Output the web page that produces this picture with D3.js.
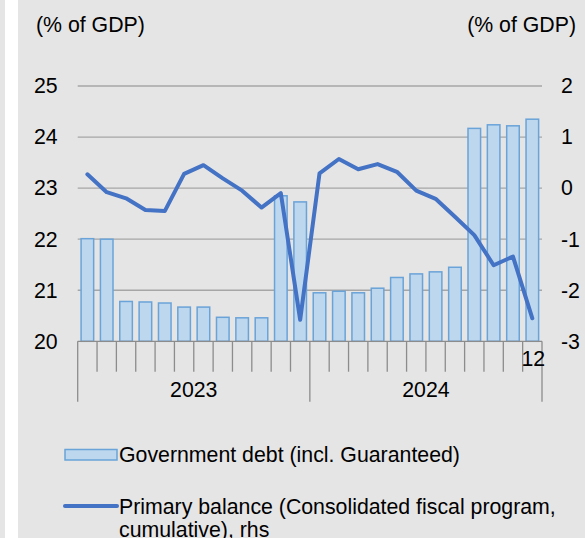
<!DOCTYPE html>
<html>
<head>
<meta charset="utf-8">
<script src="https://cdn.jsdelivr.net/npm/d3@7"></script>
<style>
  html, body { margin: 0; padding: 0; background: #e5e5e5; }
  svg { display: block; }
  text { font-family: "Liberation Sans", Arial, sans-serif; fill: #000; }
</style>
</head>
<body>
<svg id="chart" width="585" height="538"></svg>
<script>
// Monthly data, Jan 2023 – Dec 2024
const months = ["", "", "", "", "", "", "", "", "", "", "", "",
                "", "", "", "", "", "", "", "", "", "", "", "12"];
const years = ["2023", "2024"];
// Government debt (incl. guaranteed), % of GDP — left axis
const govDebt = [22.01, 22.00, 20.78, 20.77, 20.75, 20.67, 20.67, 20.47, 20.46, 20.46, 22.85, 22.73,
                 20.95, 20.98, 20.95, 21.04, 21.25, 21.32, 21.36, 21.45, 24.17, 24.24, 24.22, 24.35];
// Primary balance, consolidated fiscal program, cumulative, % of GDP — right axis
const primaryBalance = [0.27, -0.08, -0.20, -0.43, -0.45, 0.28, 0.45, 0.19, -0.05, -0.38, -0.10, -2.58,
                        0.29, 0.57, 0.37, 0.47, 0.32, -0.05, -0.21, -0.56, -0.92, -1.51, -1.34, -2.55];
const leftTicks = [20, 21, 22, 23, 24, 25];
const rightTicks = [-3, -2, -1, 0, 1, 2];
const legendLabels = ["Government debt (incl. Guaranteed)",
                      ["Primary balance (Consolidated fiscal program,", "cumulative), rhs"]];

const svg = d3.select("#chart");
const FONT = 21.3;
const fmt = d => String(d);

// Narrow white strip along the left edge
svg.append("rect").attr("x", 5).attr("y", 0).attr("width", 13).attr("height", 538).attr("fill", "#ffffff");

const plotLeft = 77.7, plotRight = 542, plotTop = 86, plotBottom = 341.3;

const x = d3.scaleBand()
  .domain(d3.range(govDebt.length))
  .range([plotLeft, plotRight])
  .paddingInner(0.35)
  .paddingOuter(0.175);
const edge = d3.scaleLinear().domain([0, govDebt.length]).range([plotLeft, plotRight]);
const yL = d3.scaleLinear().domain([20, 25]).range([plotBottom, plotTop]);
const yR = d3.scaleLinear().domain([-3, 2]).range([plotBottom, plotTop]);

// Unit labels
svg.append("text").attr("x", 36).attr("y", 31.5).attr("font-size", FONT).text("(% of GDP)");
svg.append("text").attr("x", 576).attr("y", 31.5).attr("font-size", FONT)
  .attr("text-anchor", "end").text("(% of GDP)");

// Gridlines
svg.append("g").selectAll("line").data(leftTicks.filter(d => d !== 20)).join("line")
  .attr("x1", plotLeft).attr("x2", plotRight)
  .attr("y1", d => yL(d)).attr("y2", d => yL(d))
  .attr("stroke", "#a6a6a6").attr("stroke-width", 1.3);

// Left axis
const axL = svg.append("g").attr("transform", `translate(${plotLeft},0)`)
  .call(d3.axisLeft(yL).tickValues(leftTicks).tickFormat(fmt).tickSize(0).tickPadding(20));
axL.select(".domain").remove();
axL.selectAll("text").attr("font-size", FONT).attr("font-family", "Liberation Sans, Arial, sans-serif").attr("fill", "#000");

// Right axis
const axR = svg.append("g").attr("transform", `translate(${plotRight},0)`)
  .call(d3.axisRight(yR).tickValues(rightTicks).tickFormat(fmt).tickSize(0).tickPadding(19));
axR.select(".domain").remove();
axR.selectAll("text").attr("font-size", FONT).attr("font-family", "Liberation Sans, Arial, sans-serif").attr("fill", "#000");

// Bars
svg.append("g").selectAll("rect").data(govDebt).join("rect")
  .attr("x", (d, i) => x(i))
  .attr("width", x.bandwidth())
  .attr("y", d => yL(d))
  .attr("height", d => yL(20) - yL(d))
  .attr("fill", "#bdd7ee")
  .attr("stroke", "#6aa3d8")
  .attr("stroke-width", 1.5);

// Category axis line and ticks
const axB = svg.append("g");
axB.append("line").attr("x1", plotLeft).attr("x2", plotRight)
  .attr("y1", plotBottom).attr("y2", plotBottom)
  .attr("stroke", "#8c8c8c").attr("stroke-width", 1.3);
axB.selectAll("line.tick").data(d3.range(govDebt.length + 1)).join("line")
  .attr("class", "tick")
  .attr("x1", i => edge(i)).attr("x2", i => edge(i))
  .attr("y1", plotBottom)
  .attr("y2", i => (i % 12 === 0) ? 401.7 : 371.7)
  .attr("stroke", "#8c8c8c").attr("stroke-width", 1.3);
axB.selectAll("text.month").data(months).join("text")
  .attr("class", "month")
  .attr("x", (d, i) => x(i) + x.bandwidth() / 2 + 1)
  .attr("y", 366)
  .attr("text-anchor", "middle")
  .attr("font-size", FONT)
  .text(d => d);
axB.selectAll("text.year").data(years).join("text")
  .attr("class", "year")
  .attr("x", (d, i) => (edge(i * 12) + edge(i * 12 + 12)) / 2)
  .attr("y", 397)
  .attr("text-anchor", "middle")
  .attr("font-size", FONT)
  .text(d => d);

// Primary balance line
const line = d3.line()
  .x((d, i) => x(i) + x.bandwidth() / 2)
  .y(d => yR(d));
svg.append("path").datum(primaryBalance)
  .attr("d", line)
  .attr("fill", "none")
  .attr("stroke", "#4472c4")
  .attr("stroke-width", 4)
  .attr("stroke-linejoin", "round")
  .attr("stroke-linecap", "round");

// Legend
const lg = svg.append("g");
lg.append("rect").attr("x", 65).attr("y", 449.5).attr("width", 52).attr("height", 10.5)
  .attr("fill", "#bdd7ee").attr("stroke", "#6aa3d8").attr("stroke-width", 1.5);
lg.append("text").attr("x", 119).attr("y", 461.5).attr("font-size", FONT).text(legendLabels[0]);
lg.append("line").attr("x1", 65).attr("x2", 117).attr("y1", 506).attr("y2", 506)
  .attr("stroke", "#4472c4").attr("stroke-width", 4).attr("stroke-linecap", "round");
lg.append("text").attr("x", 119).attr("y", 514.3).attr("font-size", FONT)
  .selectAll("tspan").data(legendLabels[1]).join("tspan")
  .attr("x", 119).attr("dy", (d, i) => i === 0 ? 0 : 22.5).text(d => d);
</script>
</body>
</html>
